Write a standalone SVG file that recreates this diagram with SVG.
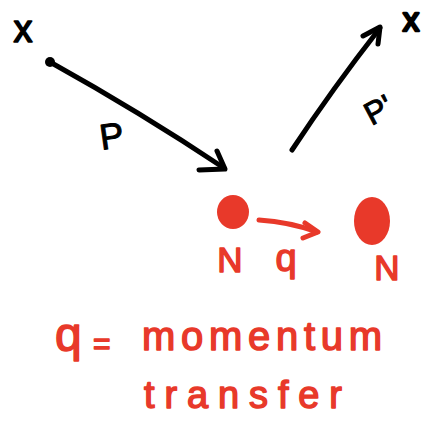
<svg xmlns="http://www.w3.org/2000/svg" width="425" height="422" viewBox="0 0 425 422">
<style>
.ink{fill:none;stroke:#000;stroke-width:5;stroke-linecap:round;stroke-linejoin:round}
.red{fill:none;stroke:#e8392a;stroke-width:5;stroke-linecap:round;stroke-linejoin:round}
.bt{font-family:"Liberation Sans",Arial,sans-serif;fill:#000;stroke:#000;stroke-width:1;stroke-linejoin:round}
.rt{font-family:"Liberation Sans",Arial,sans-serif;fill:#e8392a;stroke:#e8392a;stroke-width:1.5;stroke-linejoin:round}
</style>
<rect width="425" height="422" fill="#fff"/>
<g id="incoming-x">
<text class="bt" x="23" y="42" font-size="38" text-anchor="middle" style="stroke-width:1.5">x</text>
</g>
<g id="outgoing-x">
<text class="bt" x="411" y="31" font-size="33" text-anchor="middle" style="stroke-width:2.5">x</text>
</g>
<g id="particle-N1">
<ellipse cx="233" cy="212" rx="16" ry="17" fill="#e8392a"/>
<text class="rt" x="230" y="272" font-size="35" text-anchor="middle">N</text>
</g>
<g id="particle-N2">
<ellipse cx="372" cy="221" rx="18" ry="24" fill="#e8392a"/>
<text class="rt" x="387" y="280" font-size="35" text-anchor="middle">N</text>
</g>
<g id="connectors">
<circle cx="50" cy="62" r="5" fill="#000"/>
<path class="ink" d="M50 62 Q140 112 224 168"/>
<path class="ink" d="M199 170 L225 169 L217 151"/>
<path class="ink" d="M292 150 Q333 88 380 28"/>
<path class="ink" d="M363 36 L380 27 L378 44"/>
<path class="red" d="M259 220 Q290 222 317 232"/>
<path class="red" d="M305 223 L318 232 L303 238"/>
</g>
<text class="bt" x="100" y="150" font-size="36" transform="rotate(-8 100 140)">P</text>
<text class="bt" x="362" y="122" font-size="32" transform="rotate(-28 375 105)">P'</text>
<text class="rt" x="286" y="271" font-size="38" text-anchor="middle">q</text>
<text class="rt" x="55" y="351" font-size="48">q</text>
<text class="rt" x="93" y="354" font-size="30">=</text>
<text class="rt" x="142" y="350" font-size="40" textLength="240" lengthAdjust="spacing">momentum</text>
<text class="rt" x="144" y="408" font-size="38" textLength="198" lengthAdjust="spacing">transfer</text>
</svg>
